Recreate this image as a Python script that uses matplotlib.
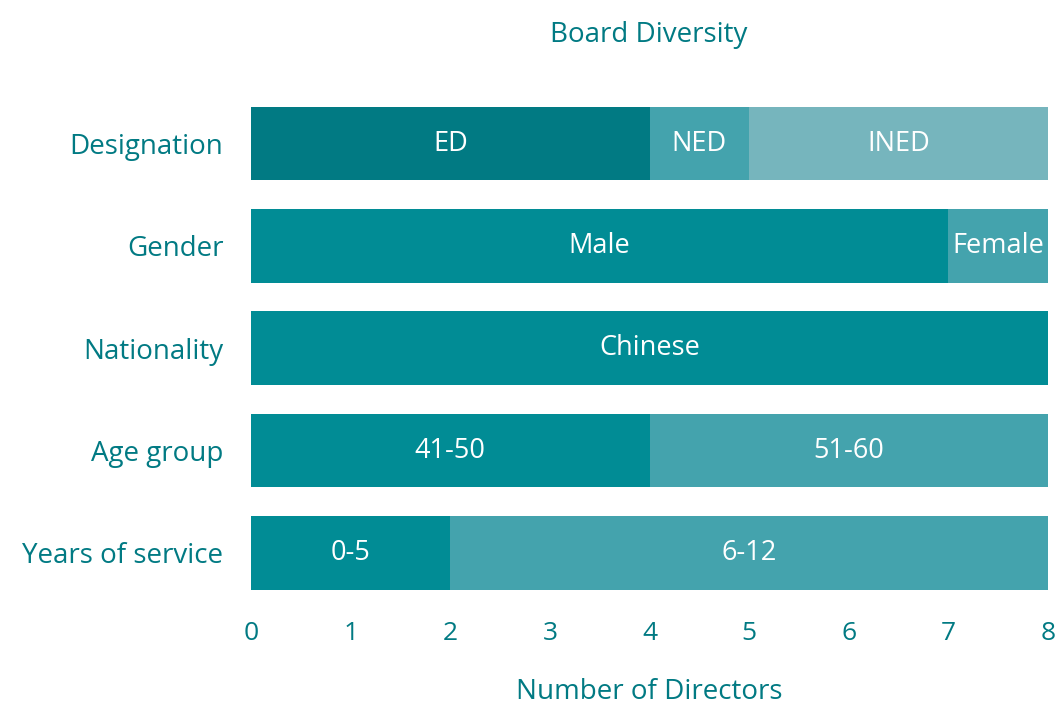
import matplotlib.pyplot as plt

plt.rcParams['font.family'] = ['Open Sans', 'DejaVu Sans']

TEAL = '#017a83'

categories = ['Designation', 'Gender', 'Nationality', 'Age group', 'Years of service']

# segments per category: (label, value)
segments = [
    [('ED', 4), ('NED', 1), ('INED', 3)],
    [('Male', 7), ('Female', 1)],
    [('Chinese', 8)],
    [('41-50', 4), ('51-60', 4)],
    [('0-5', 2), ('6-12', 6)],
]

colors = [
    ['#017a83', '#44a3ad', '#76b5bd'],
    ['#018c95', '#44a3ad'],
    ['#018c95'],
    ['#018c95', '#44a3ad'],
    ['#018c95', '#44a3ad'],
]

fig = plt.figure(figsize=(10.57, 7.06), dpi=100)
ax = fig.add_axes([0.2375, 0.1445, 0.754, 0.7245])

for i, (segs, cols) in enumerate(zip(segments, colors)):
    left = 0
    for (label, val), c in zip(segs, cols):
        ax.barh(i, val, left=left, height=0.72, color=c, edgecolor='none')
        ax.text(left + val / 2, i, label, ha='center', va='center',
                color='white', fontsize=19.5)
        left += val

ax.set_ylim(4.5, -0.5)
ax.set_xlim(0, 8)
ax.set_yticks(range(len(categories)))
ax.set_yticklabels(categories, fontsize=20, color=TEAL)
ax.set_xticks(range(9))
ax.set_xticklabels([str(t) for t in range(9)], fontsize=19, color=TEAL)
ax.tick_params(axis='both', length=0)
ax.tick_params(axis='y', pad=20)
ax.tick_params(axis='x', pad=12)
for s in ax.spines.values():
    s.set_visible(False)

ax.set_xlabel('Number of Directors', fontsize=20, color=TEAL, labelpad=23)
fig.text(0.614, 0.95, 'Board Diversity', ha='center', va='center',
         fontsize=20, color=TEAL)

fig.savefig('out.png', dpi=100)
